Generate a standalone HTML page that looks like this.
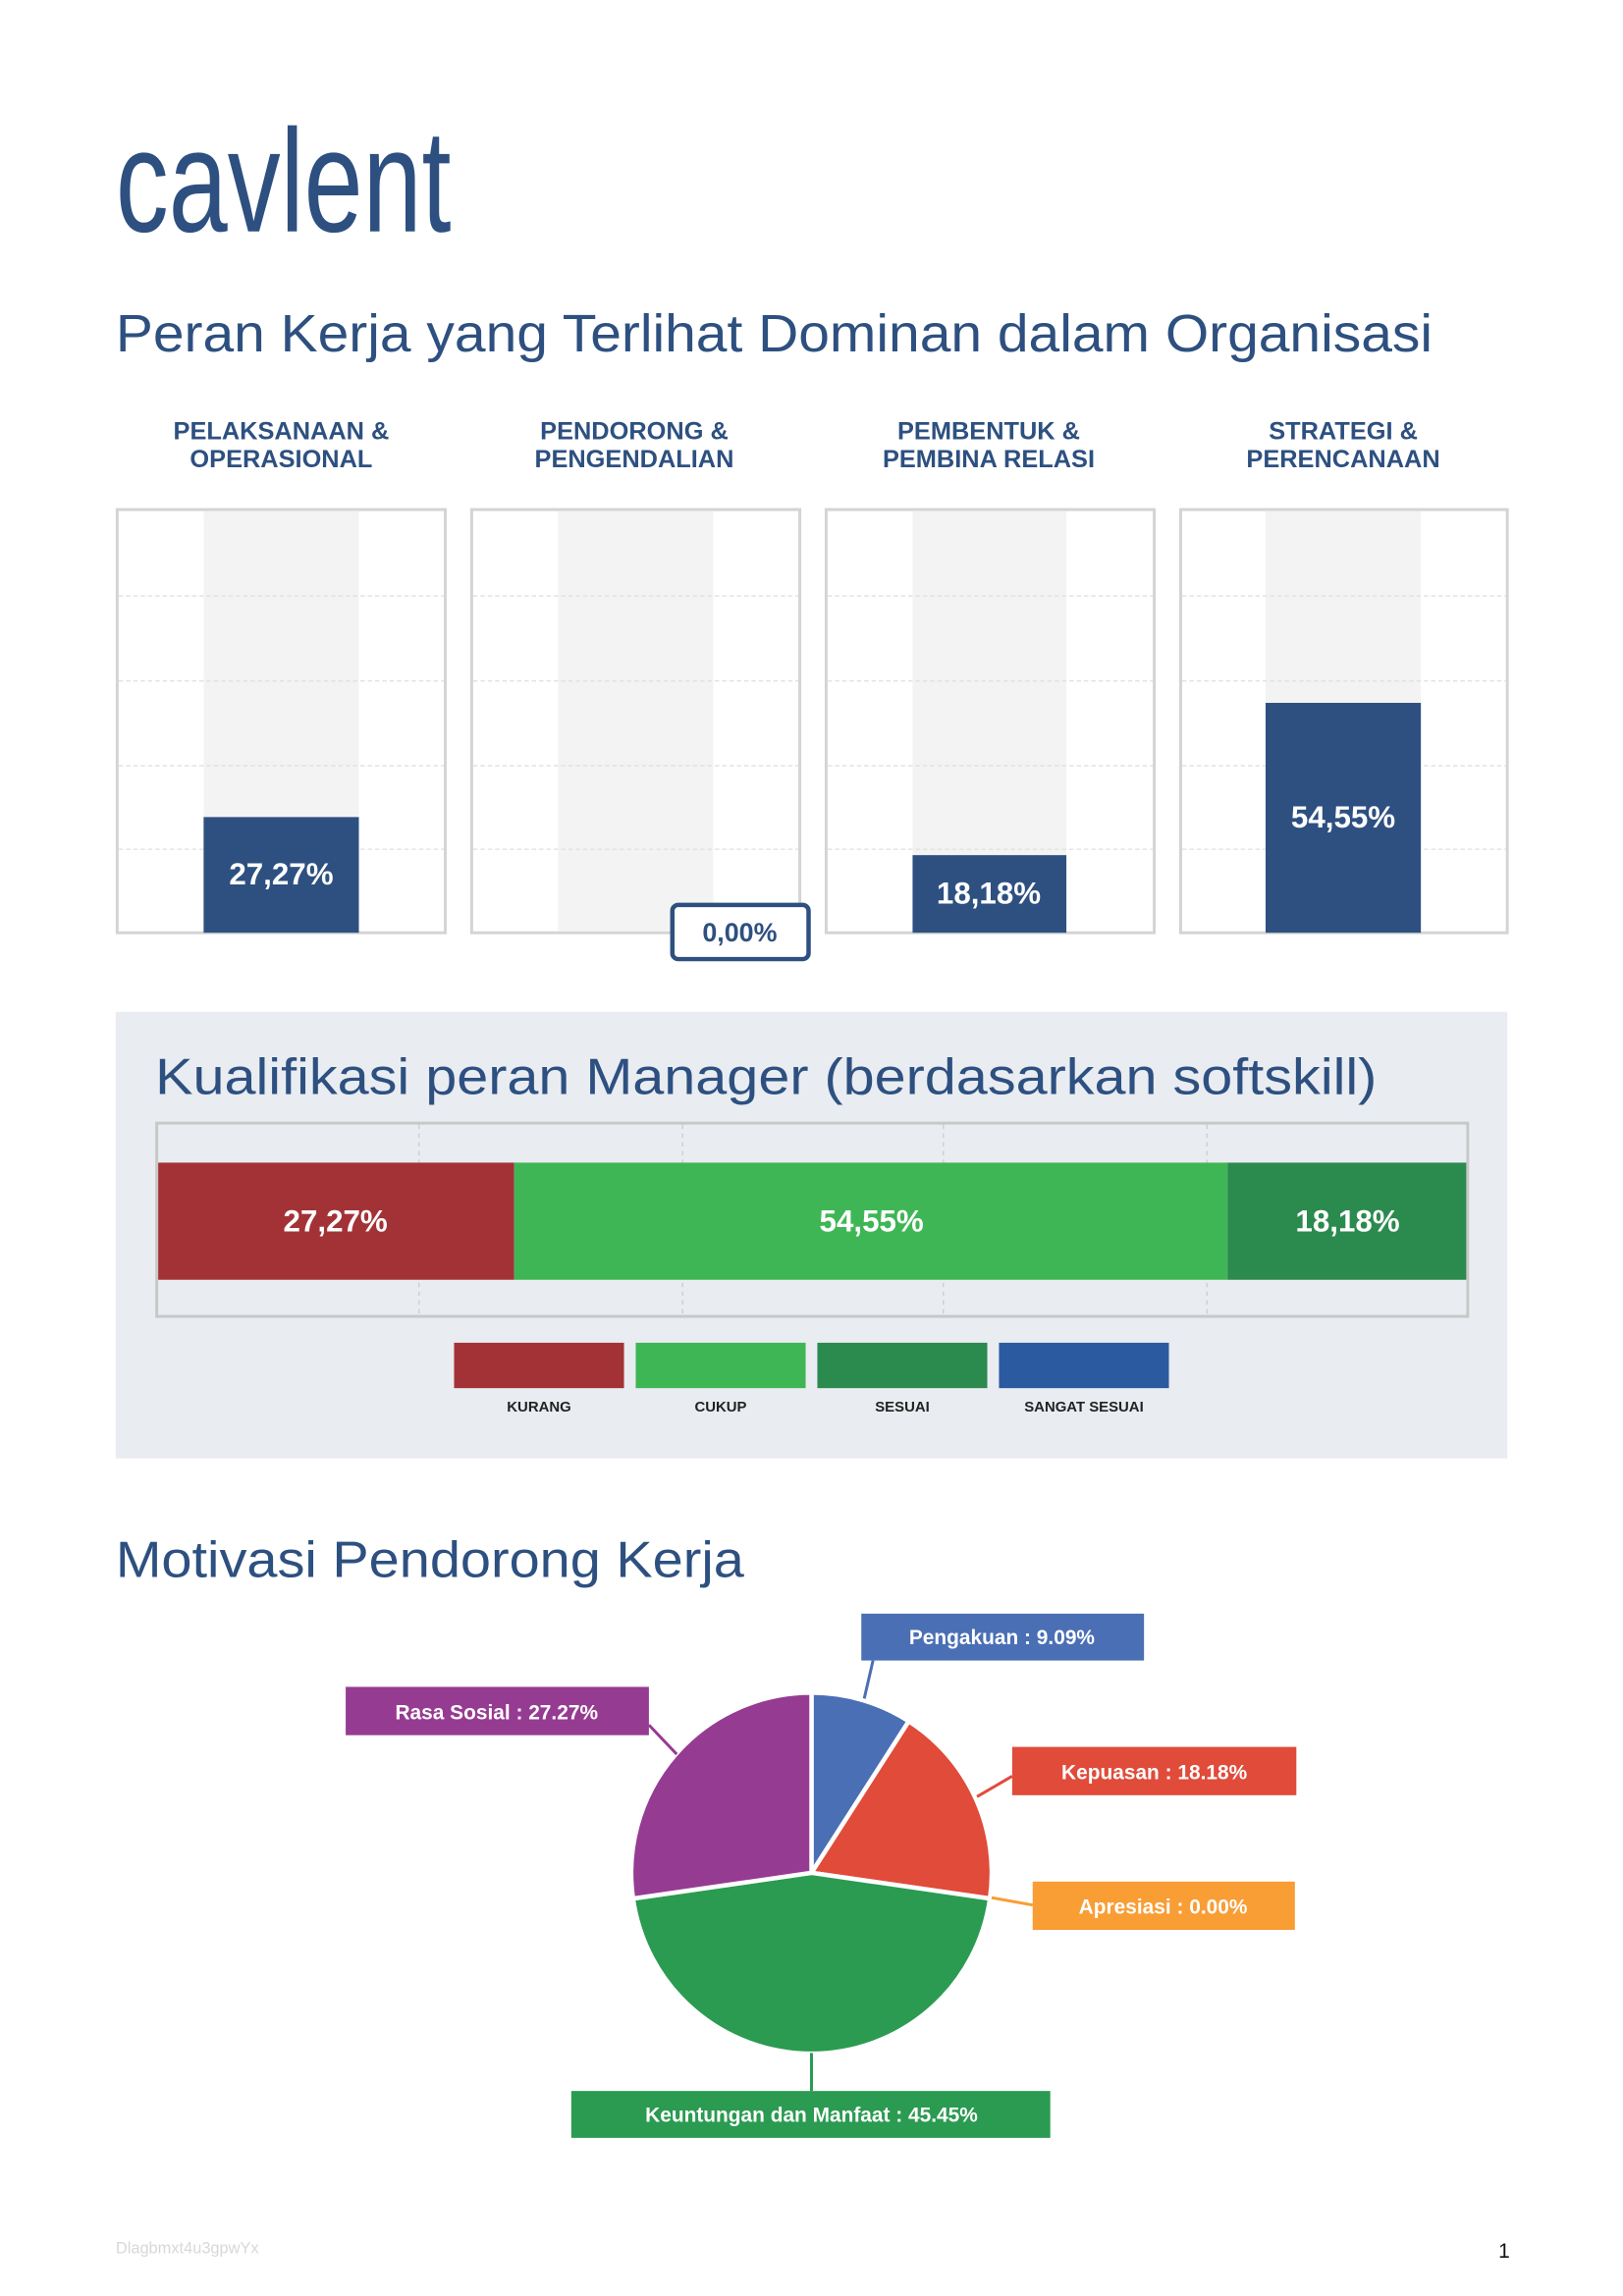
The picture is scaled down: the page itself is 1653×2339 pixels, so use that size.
<!DOCTYPE html>
<html><head><meta charset="utf-8"><style>html,body{margin:0;padding:0;background:#fff}svg{display:block}</style></head>
<body>
<svg width="1653" height="2339" viewBox="0 0 1108 1568" preserveAspectRatio="none" xmlns="http://www.w3.org/2000/svg" font-family="Liberation Sans, sans-serif">
<rect width="1110" height="1570" fill="#fff"/>
<text x="79" y="158" font-size="100" fill="#2e5080" textLength="229" lengthAdjust="spacingAndGlyphs">cavlent</text>
<text x="79" y="240" font-size="36" fill="#2d5080" textLength="899" lengthAdjust="spacingAndGlyphs">Peran Kerja yang Terlihat Dominan dalam Organisasi</text>
<g font-size="17" font-weight="bold" fill="#2d5080" text-anchor="middle">
<text x="192" y="300">PELAKSANAAN &amp;</text><text x="192" y="319">OPERASIONAL</text>
<text x="433" y="300">PENDORONG &amp;</text><text x="433" y="319">PENGENDALIAN</text>
<text x="675" y="300">PEMBENTUK &amp;</text><text x="675" y="319">PEMBINA RELASI</text>
<text x="917" y="300">STRATEGI &amp;</text><text x="917" y="319">PERENCANAAN</text>
</g>
<g>
<rect x="80" y="348" width="224" height="289" fill="#fff" stroke="#d4d4d4" stroke-width="2"/>
<rect x="322" y="348" width="224" height="289" fill="#fff" stroke="#d4d4d4" stroke-width="2"/>
<rect x="564" y="348" width="224" height="289" fill="#fff" stroke="#d4d4d4" stroke-width="2"/>
<rect x="806" y="348" width="223" height="289" fill="#fff" stroke="#d4d4d4" stroke-width="2"/>
<rect x="139" y="349" width="106" height="287" fill="#f3f3f3"/>
<rect x="381" y="349" width="106" height="287" fill="#f3f3f3"/>
<rect x="623" y="349" width="105" height="287" fill="#f3f3f3"/>
<rect x="864" y="349" width="106" height="287" fill="#f3f3f3"/>
<g stroke="#e2e2e2" stroke-width="1" stroke-dasharray="3,2">
<path d="M81 407H303M81 465H303M81 523H303M81 580H303"/>
<path d="M323 407H545M323 465H545M323 523H545M323 580H545"/>
<path d="M565 407H787M565 465H787M565 523H787M565 580H787"/>
<path d="M807 407H1028M807 465H1028M807 523H1028M807 580H1028"/>
</g>
<rect x="139" y="558" width="106" height="79" fill="#2e5080"/>
<rect x="623" y="584" width="105" height="53" fill="#2e5080"/>
<rect x="864" y="480" width="106" height="157" fill="#2e5080"/>
<g font-size="21" font-weight="bold" fill="#fff" text-anchor="middle">
<text x="192" y="604">27,27%</text><text x="675" y="617">18,18%</text><text x="917" y="565">54,55%</text>
</g>
<rect x="459" y="618" width="93" height="37" rx="4" fill="#fff" stroke="#2e5080" stroke-width="3"/>
<text x="505" y="643" font-size="18" font-weight="bold" fill="#2e5080" text-anchor="middle">0,00%</text>
</g>
<rect x="79" y="691" width="950" height="305" fill="#e9ecf1"/>
<text x="106" y="747" font-size="35" fill="#2d5080" textLength="834" lengthAdjust="spacingAndGlyphs">Kualifikasi peran Manager (berdasarkan softskill)</text>
<rect x="107" y="767" width="895" height="132" fill="#e9ecf1" stroke="#c8c8c8" stroke-width="2"/>
<g stroke="#cfcfd4" stroke-dasharray="3,3"><path d="M286 768V898M466 768V898M644 768V898M824 768V898"/></g>
<rect x="108" y="794" width="243" height="80" fill="#a33236"/>
<rect x="351" y="794" width="487" height="80" fill="#3fb655"/>
<rect x="838" y="794" width="163" height="80" fill="#2b8a4e"/>
<g font-size="21" font-weight="bold" fill="#fff" text-anchor="middle">
<text x="229" y="841">27,27%</text><text x="595" y="841">54,55%</text><text x="920" y="841">18,18%</text>
</g>
<rect x="310" y="917" width="116" height="31" fill="#a33236"/>
<rect x="434" y="917" width="116" height="31" fill="#3fb655"/>
<rect x="558" y="917" width="116" height="31" fill="#2b8a4e"/>
<rect x="682" y="917" width="116" height="31" fill="#2c5aa0"/>
<g font-size="10" font-weight="bold" fill="#222" text-anchor="middle">
<text x="368" y="964">KURANG</text><text x="492" y="964">CUKUP</text><text x="616" y="964">SESUAI</text><text x="740" y="964">SANGAT SESUAI</text>
</g>
<text x="79" y="1077" font-size="35" fill="#2d5080" textLength="429" lengthAdjust="spacingAndGlyphs">Motivasi Pendorong Kerja</text>
<g stroke="#fff" stroke-width="3" stroke-linejoin="round">
<path d="M554 1279L554 1156A123 123 0 0 1 620.4 1175.5Z" fill="#4a6fb5"/>
<path d="M554 1279L620.4 1175.5A123 123 0 0 1 675.8 1296.6Z" fill="#e04b3a"/>
<path d="M554 1279L675.8 1296.6A123 123 0 0 1 432.2 1296.6Z" fill="#2a9b50"/>
<path d="M554 1279L432.2 1296.6A123 123 0 0 1 554 1156Z" fill="#963b92"/>
</g>
<g stroke-width="2">
<path d="M590 1160L596 1134" stroke="#4a6fb5"/>
<path d="M667 1227L691 1213" stroke="#e04b3a"/>
<path d="M677 1296L705 1301" stroke="#f99d35"/>
<path d="M554 1402L554 1428" stroke="#2a9b50"/>
<path d="M462 1198L443 1178" stroke="#963b92"/>
</g>
<rect x="588" y="1102" width="193" height="32" fill="#4a6fb5"/>
<rect x="691" y="1193" width="194" height="33" fill="#e04b3a"/>
<rect x="705" y="1285" width="179" height="33" fill="#f99d35"/>
<rect x="390" y="1428" width="327" height="32" fill="#2a9b50"/>
<rect x="236" y="1152" width="207" height="33" fill="#963b92"/>
<g font-size="14" font-weight="bold" fill="#fff" text-anchor="middle">
<text x="684" y="1123">Pengakuan : 9.09%</text>
<text x="788" y="1215">Kepuasan : 18.18%</text>
<text x="794" y="1307">Apresiasi : 0.00%</text>
<text x="554" y="1449">Keuntungan dan Manfaat : 45.45%</text>
<text x="339" y="1174">Rasa Sosial : 27.27%</text>
</g>
<text x="79" y="1539" font-size="11" fill="#d8d8d8">Dlagbmxt4u3gpwYx</text>
<text x="1023" y="1542" font-size="14" fill="#111">1</text>
</svg>
</body></html>
